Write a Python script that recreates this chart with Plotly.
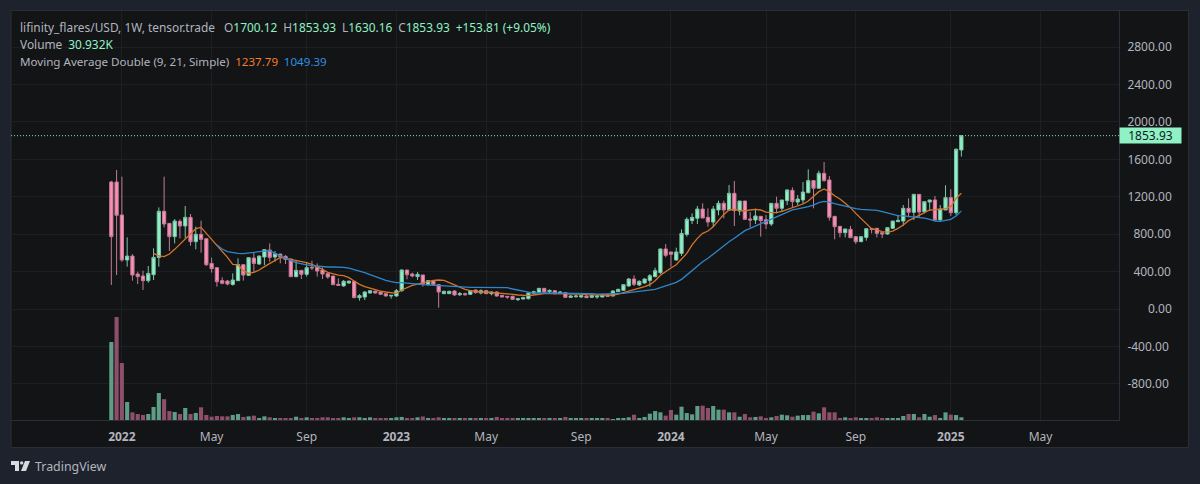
import pandas as pd
import plotly.graph_objects as go

# weekly candles
start_week = "2021-12-20"
opens = [1358,1358,1005,524,566,374,353,303,367,552,1045,916,774,938,888,980,720,799,752,488,442,303,299,263,303,474,360,545,481,556,631,556,588,563,535,346,413,371,447,446,417,378,353,264,247,278,296,121,128,171,192,182,164,139,139,
         196,417,374,346,364,260,299,260,164,164,192,153,164,157,203,171,196,164,182,146,135,135,100,107,110,168,178,221,185,196,168,175,125,132,128,139,125,128,128,153,139,185,200,246,321,257,278,306,346,389,642,610,524,595,798,945,970,1069,980,930,1059,1130,1059,1237,1048,1155,963,952,991,955,909,1130,1077,1159,1269,1144,1166,1244,1373,1291,1451,1380,991,884,816,852,774,720,766,859,863,816,802,863,934,941,1077,1034,1226,1041,1144,1166,952,1059,1191,1030,1700.12]
highs = [1370,1487,1415,766,588,399,410,460,649,1087,1415,916,962,959,1102,1016,881,945,752,549,442,339,310,381,542,474,552,602,574,635,702,620,588,577,535,517,413,495,517,488,446,378,353,328,310,299,296,160,189,196,192,185,164,146,214,
         424,417,389,396,364,310,310,267,196,196,203,182,175,203,210,210,203,189,189,150,139,143,114,132,178,196,225,225,210,200,193,182,146,150,146,146,153,150,160,157,200,218,267,332,360,307,328,374,442,645,695,610,656,852,980,1023,1102,1130,1077,1102,1159,1159,1326,1369,1155,1155,1037,1073,991,1005,1130,1201,1166,1280,1301,1219,1358,1494,1373,1479,1572,1422,991,884,856,888,774,774,859,859,863,816,870,941,1005,1112,1183,1226,1226,1148,1166,1209,1112,1323,1280,1718,1853.93]
lows = [257,363,506,453,303,267,203,282,310,453,873,620,702,756,756,677,638,602,460,389,239,264,253,250,299,303,353,389,471,471,506,506,488,481,346,339,321,346,417,346,321,324,260,250,239,271,121,89,96,167,165,150,135,110,132,
        185,317,339,310,239,253,246,14,160,160,142,139,143,150,164,157,160,146,132,125,110,100,85,103,103,157,171,168,168,157,160,121,118,121,121,118,118,110,125,132,135,182,196,239,246,246,271,239,339,374,553,453,517,567,774,909,909,973,880,877,1002,970,1059,888,1002,952,873,909,774,855,888,1023,1041,1112,1087,1112,1123,1237,1077,1291,1362,945,745,766,766,763,695,720,731,809,766,759,795,855,930,888,980,952,980,1023,1052,945,945,1059,995,1005,1630.16]
closes = [774,1002,524,566,363,346,303,381,552,1045,909,774,941,888,980,720,799,745,474,431,292,275,267,310,474,363,549,488,566,635,552,592,560,531,346,413,371,442,440,406,374,342,260,253,296,299,121,143,182,196,171,157,139,146,196,
          417,367,353,371,267,303,260,182,189,189,150,164,153,196,175,196,164,182,139,128,128,103,110,121,171,185,221,182,199,164,182,125,139,139,143,121,146,139,153,135,193,210,260,321,264,296,321,356,410,642,574,585,610,809,959,980,1069,973,930,1069,1130,1059,1237,1052,1155,959,952,995,945,909,1130,1077,1166,1273,1148,1176,1251,1373,1291,1451,1373,980,880,816,856,763,720,774,859,852,809,802,870,941,948,1077,1034,1226,1037,1148,1166,952,1069,1191,1030,1708,1853.93]

# volume in thousands
volume = [897,1185,655,207,88,69,58,69,150,311,240,103,92,69,138,69,81,146,58,38,46,42,42,58,69,35,42,50,20,42,31,23,19,19,19,38,19,31,23,23,31,31,23,19,31,19,31,31,23,31,19,19,19,19,31,35,23,19,31,40,19,19,31,19,19,19,23,19,19,23,23,19,19,35,19,19,19,15,15,15,15,
          19,19,19,19,19,35,15,15,15,15,15,15,15,12,8,15,19,31,61,19,35,73,103,88,50,115,61,153,80,65,161,165,138,161,119,119,88,88,38,69,31,35,42,19,31,46,61,54,38,50,57,57,96,77,146,88,88,23,31,19,31,19,15,19,31,23,19,19,23,46,69,69,31,69,38,57,23,88,61,57,31]

# moving averages, start at week 9 and week 21
ma_fast = [595,567,560,588,638,695,756,809,859,873,809,745,684,613,552,478,471,410,381,392,417,453,488,524,552,542,531,524,506,495,478,453,424,392,374,363,356,335,299,264,239,221,203,192,182,175,168,
           203,232,253,267,282,299,307,310,307,282,257,232,210,196,185,182,182,178,175,171,164,157,150,143,143,150,160,164,164,164,168,168,164,160,160,153,150,150,150,150,150,160,175,189,203,218,239,260,303,360,403,438,474,531,595,
           685,756,809,834,880,945,1012,1059,1066,1055,1048,1059,1066,1059,1037,1030,1030,1045,1066,1087,1102,1123,1155,1201,1255,1283,1255,1212,1176,1130,1084,1023,970,909,859,845,827,823,834,863,898,945,970,1002,1030,1059,1062,1066,1073,1095,1183,1237.79]
ma_slow = [684,642,613,602,595,592,595,606,613,620,624,595,567,542,517,495,481,471,463,456,449,449,449,449,446,438,424,406,389,367,346,328,307,292,282,
           282,278,278,267,260,257,253,246,243,239,235,232,232,232,232,232,232,232,232,232,228,214,203,192,178,171,171,171,171,171,171,171,168,168,168,164,164,160,160,160,160,164,168,175,182,185,189,196,210,228,246,264,285,317,364,
           417,460,506,542,588,638,684,720,756,798,838,863,888,909,934,959,988,1016,1041,1059,1070,1080,1095,1112,1137,1151,1144,1127,1112,1095,1084,1073,1066,1062,1059,1055,1041,1027,1012,998,995,991,984,980,973,959,941,937,945,959,995,1049.39]

price_ticks = [-800, -400, 0, 400, 800, 1200, 1600, 2000, 2400, 2800]
price_labels = ["-800.00", "-400.00", "\u2007\u2007\u20070.00", "\u2002400.00", "\u2002800.00", "1200.00", "1600.00", "2000.00", "2400.00", "2800.00"]
time_ticks = ["2022-01-03", "2022-05-02", "2022-09-05", "2023-01-02", "2023-05-01", "2023-09-04", "2024-01-01", "2024-05-06", "2024-09-02", "2025-01-06", "2025-05-05"]
time_labels = ["<b>2022</b>", "May", "Sep", "<b>2023</b>", "May", "Sep", "<b>2024</b>", "May", "Sep", "<b>2025</b>", "May"]

assert len(opens) == len(highs) == len(lows) == len(closes) == len(volume) == 162
assert len(ma_fast) == 154 and len(ma_slow) == 142

# colours
outer_bg = "#1e222d"
panel_bg = "#131416"
border = "#2a2e39"
grid = "#1d1f23"
text_col = "#b2b5be"
up_col = "#8ff2c4"
down_col = "#fc8fb3"
font_name = "Noto Sans"

weeks = pd.date_range(start_week, periods=len(closes), freq="7D")

# first volume bar is green even though its candle is not
vol_colors = ["#5f9d86" if c >= o else "#8f4f6b" for o, c in zip(opens, closes)]
vol_colors[0] = "#5f9d86"

fig = go.Figure()
fig.add_trace(go.Bar(x=weeks, y=volume, marker_color=vol_colors, marker_line_width=0,
                     width=7 * 24 * 3600 * 1000 * 0.78, yaxis="y2"))
fig.add_trace(go.Candlestick(x=weeks, open=opens, high=highs, low=lows, close=closes,
                             increasing=dict(line=dict(color="#7cc4a8", width=1), fillcolor=up_col),
                             decreasing=dict(line=dict(color="#c47c98", width=1), fillcolor=down_col),
                             whiskerwidth=0))
fig.add_trace(go.Scatter(x=weeks[8:], y=ma_fast, mode="lines", line=dict(color="#d4742a", width=1.3)))
fig.add_trace(go.Scatter(x=weeks[20:], y=ma_slow, mode="lines", line=dict(color="#2e86c9", width=1.3)))


# helpers for page pixels -> paper coordinates
left, right, top, bottom = 11, 1119, 11, 420
def px(v):
    return (v - left) / (right - left)
def py(v):
    return (bottom - v) / (bottom - top)

shapes = [
    # panel behind the whole chart
    dict(type="rect", xref="paper", yref="paper", x0=px(11), x1=px(1188.5), y0=py(447.5), y1=py(10.5),
         fillcolor=panel_bg, line=dict(color=border, width=1), layer="below"),
    # last price line
    dict(type="line", xref="paper", yref="y", x0=0, x1=1, y0=closes[-1], y1=closes[-1],
         line=dict(color="#8fd8b6", width=1, dash="1px,2px")),
    # TradingView logo
    dict(type="path", xref="paper", yref="paper", fillcolor="#d8dae0", line_width=0,
         path=f"M {px(11)} {py(461)} L {px(19)} {py(461)} L {px(19)} {py(471)} L {px(15)} {py(471)} L {px(15)} {py(465)} L {px(11)} {py(465)} Z"),
    dict(type="circle", xref="paper", yref="paper", fillcolor="#d8dae0", line_width=0,
         x0=px(20), x1=px(23.4), y0=py(464.6), y1=py(461.2)),
    dict(type="path", xref="paper", yref="paper", fillcolor="#d8dae0", line_width=0,
         path=f"M {px(25)} {py(461)} L {px(30)} {py(461)} L {px(26)} {py(471)} L {px(21)} {py(471)} Z"),
]

def green(s):
    return f'<span style="color:{up_col}">{s}</span>'

legend_lines = [
    ("lifinity_flares/USD, 1W, tensor.trade\u2002 O" + green("1700.12") + "\u2002H" + green("1853.93")
     + "\u2002L" + green("1630.16") + "\u2002C" + green("1853.93") + "\u2002" + green("+153.81 (+9.05%)"), 26.5, 11.9),
    ("Volume\u2002" + green("30.932K"), 44, 11.9),
    ('Moving Average Double (9, 21, Simple)\u2002<span style="color:#f57c2e">1237.79</span>\u2002'
     '<span style="color:#2f8fe0">1049.39</span>', 61, 11.6),
]

annotations = [dict(xref="paper", yref="paper", x=px(18.5), y=py(ypos), text=line, showarrow=False,
                    xanchor="left", yanchor="middle", borderpad=0, font=dict(color=text_col, size=fsize))
               for line, ypos, fsize in legend_lines]

# price label on the axis
annotations.append(dict(xref="paper", yref="y", x=1, y=closes[-1], text=f"{closes[-1]:.2f}", showarrow=False,
                        xanchor="left", yanchor="middle", bgcolor=up_col, width=61, height=15, align="center",
                        borderpad=0, font=dict(color="#131722", size=12)))
annotations.append(dict(xref="paper", yref="paper", x=px(34), y=py(466), text="TradingView", showarrow=False,
                        xanchor="left", yanchor="middle", borderpad=0, font=dict(color=text_col, size=12.4)))

fig.update_layout(
    width=1200, height=484, autosize=False,
    margin=dict(l=left, r=1200 - right, t=top, b=484 - bottom),
    paper_bgcolor=outer_bg, plot_bgcolor=panel_bg,
    showlegend=False, boxgap=0.12, hovermode=False,
    font=dict(family=font_name, color=text_col, size=12),
    shapes=shapes, annotations=annotations,
    xaxis=dict(type="date", range=["2021-08-09", "2025-08-17"], rangeslider_visible=False,
               tickmode="array", tickvals=time_ticks, ticktext=time_labels, tickangle=0,
               showgrid=True, gridcolor=grid, zeroline=False, showline=True, linecolor=border,
               ticks="", ticklabelstandoff=6),
    yaxis=dict(side="right", range=[-1187, 3187], tickmode="array", tickvals=price_ticks, ticktext=price_labels,
               showgrid=True, gridcolor=grid, zeroline=False, showline=True, linecolor=border,
               ticks="", ticklabelstandoff=5),
    yaxis2=dict(overlaying="y", range=[0, 4705], visible=False),
)

fig.write_html("out.html", config=dict(displayModeBar=False),
               post_script="document.body.style.margin='0';document.body.style.background='#1e222d';")
